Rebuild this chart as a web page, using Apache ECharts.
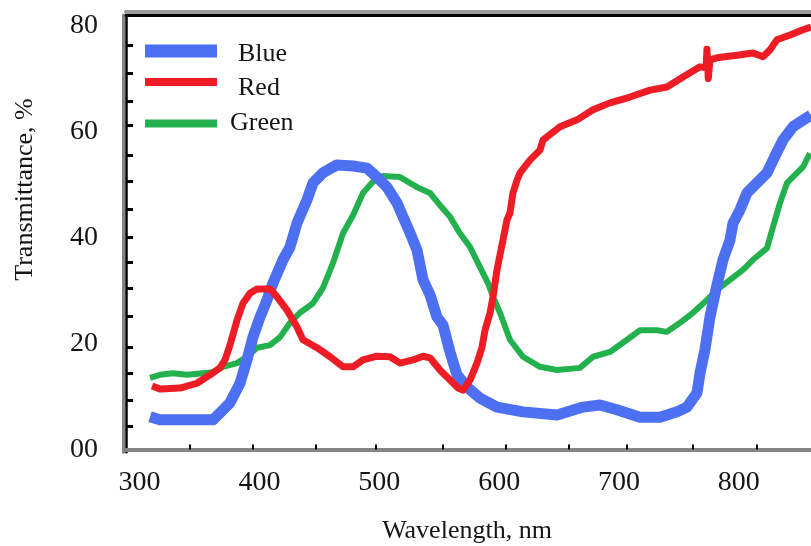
<!DOCTYPE html>
<html>
<head>
<meta charset="utf-8">
<script src="https://cdn.jsdelivr.net/npm/echarts@6/dist/echarts.min.js"></script>
<style>
html,body{margin:0;padding:0;background:#fff;}
#chart{width:811px;height:546px;}
</style>
</head>
<body>
<div id="chart"></div>
<script>
// ---- data (wavelength nm, transmittance %) ----
const seriesNames = ['Blue', 'Red', 'Green'];
const blueData = [
  [308.7,6.2],[317.0,5.6],[361.3,5.6],[367.1,6.9],[375.4,8.8],[383.8,12.5],[389.6,16.9],[394.6,21.2],
  [400.5,25.0],[406.3,28.2],[411.3,31.4],[419.7,35.8],[425.5,38.2],[431.3,42.7],[439.7,47.1],[444.7,50.3],
  [453.0,52.2],[464.7,53.7],[478.1,53.5],[489.7,53.1],[498.1,51.4],[506.4,49.5],[514.8,46.5],[519.8,43.9],
  [525.6,40.9],[531.5,37.6],[536.5,32.0],[542.3,29.2],[548.1,25.0],[553.1,23.5],[559.0,18.4],[564.8,14.1],
  [573.2,11.8],[584.0,9.7],[598.2,8.0],[619.9,7.1],[648.3,6.5],[670.0,8.0],[684.1,8.4],[698.3,7.5],
  [717.5,6.1],[734.2,6.1],[748.4,7.1],[756.7,8.0],[765.1,10.7],[767.6,14.4],[771.7,18.8],[775.9,25.0],
  [781.7,31.0],[786.8,35.8],[792.6,39.5],[795.1,42.7],[800.9,45.2],[806.8,48.4],[815.1,50.3],[823.5,52.2],
  [828.5,54.6],[836.8,58.4],[845.2,60.9],[856.8,62.6],[860.2,63.1]
];
const redData = [
  [310.4,12.0],[317.0,11.4],[333.7,11.6],[347.9,12.5],[358.8,14.1],[367.1,15.4],[371.3,16.9],[375.4,19.7],
  [381.3,24.4],[386.3,27.6],[392.1,29.5],[398.0,30.3],[408.8,30.3],[414.7,28.8],[423.0,26.3],[431.3,23.1],
  [436.3,20.7],[448.0,19.2],[458.9,17.5],[469.7,15.6],[478.1,15.6],[486.4,16.9],[498.1,17.6],[508.9,17.5],
  [517.3,16.3],[528.1,16.9],[536.5,17.6],[542.3,17.3],[550.6,15.0],[559.0,13.1],[565.7,11.6],[569.8,11.2],
  [575.7,13.1],[581.5,16.3],[585.7,19.3],[588.2,22.5],[592.4,25.8],[594.9,28.8],[598.2,33.9],[603.2,39.5],
  [606.5,43.3],[609.0,44.6],[611.5,48.4],[614.9,50.8],[617.4,52.2],[625.7,54.6],[634.1,56.5],[636.6,58.4],
  [650.8,60.9],[665.0,62.2],[678.3,64.1],[692.5,65.4],[709.2,66.5],[725.9,67.8],[740.0,68.4],[753.4,70.3],
  [767.6,72.2],[772.6,72.0],[773.4,75.5],[774.5,70.0],[775.9,73.5],[781.7,73.9],[798.4,74.4],[811.8,74.8],
  [820.1,74.1],[826.0,75.4],[831.8,77.3],[842.7,78.2],[853.5,79.2],[860.2,79.7]
];
const greenData = [
  [308.7,13.5],[317.0,14.1],[327.9,14.4],[339.6,14.1],[352.9,14.4],[361.3,14.6],[369.6,15.6],[381.3,16.3],
  [389.6,17.5],[398.0,19.2],[408.8,19.7],[417.2,21.2],[425.5,23.9],[433.8,25.8],[444.7,27.6],[453.0,30.5],
  [461.4,35.2],[469.7,40.8],[478.1,44.2],[486.4,48.4],[494.7,50.5],[503.1,51.6],[517.3,51.4],[531.5,49.5],
  [542.3,48.4],[550.6,46.1],[559.0,43.9],[567.3,40.8],[575.7,38.2],[584.0,34.4],[590.7,31.4],[594.9,28.8],
  [600.7,25.8],[609.0,20.7],[619.9,17.5],[634.1,15.6],[648.3,15.0],[667.4,15.4],[678.3,17.5],[692.5,18.4],
  [706.7,20.7],[717.5,22.5],[731.7,22.5],[740.0,22.2],[750.9,23.9],[761.7,25.8],[773.4,28.2],[781.7,30.1],
  [792.6,32.0],[803.4,33.9],[811.8,35.8],[823.5,38.0],[828.5,42.0],[834.3,46.5],[840.2,50.3],[848.5,52.2],
  [853.5,53.3],[859.3,55.9]
];
// tick labels and tick marks
const xLabelValues = [300, 400, 500, 600, 700, 800];
const xTickValues = [342.1, 394.6, 447.2, 497.3, 553.2, 605.7, 658.3, 706.7, 761.7, 815.1];
const yLabelValues = [0, 20, 40, 60, 80];
const yTickValues = [76.3, 71.0, 65.7, 61.2, 55.6, 50.7, 45.4, 40.1, 35.4, 30.5, 25.2, 19.2, 14.4, 9.2, 4.4];
const xTitle = 'Wavelength, nm';
const yTitle = 'Transmittance, %';

// ---- styling ----
const FONT = 'Liberation Serif';
const TXT = '#151515';
const colors = { Blue: '#4d6ff2', Red: '#ee1c25', Green: '#22b14c' };
const X_MIN = 288.67, X_MAX = 860.2, Y_MIN = -0.5, Y_MAX = 82;

const chart = echarts.init(document.getElementById('chart'), null, { renderer: 'canvas' });

function plainX(pos, offset, color, width) {
  return { type: 'value', min: X_MIN, max: X_MAX, position: pos, offset: offset,
    axisLine: { show: true, lineStyle: { color: color, width: width } },
    axisTick: { show: false }, axisLabel: { show: false }, splitLine: { show: false } };
}
// legend text is pushed down by a small spacer line (shift = spacer / 2)
function legendFor(name, top, h, padLeft, spacer) {
  return {
    data: [name], left: 145, top: top, orient: 'horizontal', padding: 0,
    icon: 'rect', itemWidth: 72, itemHeight: h,
    itemStyle: { borderWidth: 0 },
    formatter: spacer > 0 ? (n => '{s| }\n{t|' + n + '}') : (n => '{t|' + n + '}'),
    textStyle: {
      fontFamily: FONT, fontSize: 26, color: TXT, padding: [0, 0, 0, padLeft],
      rich: {
        s: { fontSize: 2, lineHeight: spacer || 1 },
        t: { fontFamily: FONT, fontSize: 26, lineHeight: 26, color: TXT }
      }
    }
  };
}

const option = {
  animation: false,
  backgroundColor: '#fff',
  grid: { left: 126, right: 0, top: 14.9, bottom: 93.85, containLabel: false, outerBoundsMode: 'none' },
  legend: [
    legendFor('Blue', 37, 13, 16, 7),
    legendFor('Red', 68, 8, 16, 12),
    legendFor('Green', 110.5, 8, 8, 0)
  ],
  xAxis: [
    {
      type: 'value', min: X_MIN, max: X_MAX, position: 'bottom',
      name: xTitle, nameLocation: 'middle', nameGap: 66,
      nameTextStyle: { fontFamily: FONT, fontSize: 26, color: TXT, padding: [0, 3, 0, 0] },
      axisLine: { show: true, lineStyle: { color: '#000', width: 3 } },
      axisTick: { show: true, inside: true, length: 5, lineStyle: { color: '#000', width: 2 }, customValues: xTickValues },
      axisLabel: { show: true, margin: 16, fontFamily: FONT, fontSize: 28, color: TXT, customValues: xLabelValues,
        formatter: v => String(v) },
      splitLine: { show: false }
    },
    plainX('bottom', 4, '#858585', 4),
    plainX('top', 0, '#000', 3),
    plainX('top', 3.5, '#9a9a9a', 4)
  ],
  yAxis: [
    {
      type: 'value', min: Y_MIN, max: Y_MAX, position: 'left',
      name: yTitle, nameLocation: 'middle', nameGap: 88, nameRotate: 90,
      nameTextStyle: { fontFamily: FONT, fontSize: 26, color: TXT, padding: [0, 0, 0, 88] },
      axisLine: { show: true, lineStyle: { color: '#000', width: 2.5 } },
      axisTick: { show: true, inside: true, length: 7, lineStyle: { color: '#000', width: 3 }, customValues: yTickValues },
      axisLabel: { show: true, margin: 28, fontFamily: FONT, fontSize: 28, color: TXT, customValues: yLabelValues,
        formatter: v => String(Math.round(v)).padStart(2, '0') },
      splitLine: { show: false }
    },
    {
      type: 'value', min: Y_MIN, max: Y_MAX, position: 'left', offset: 2.8,
      axisLine: { show: true, lineStyle: { color: '#858585', width: 3 } },
      axisTick: { show: false }, axisLabel: { show: false }, splitLine: { show: false }
    }
  ],
  series: [
    { name: 'Green', type: 'line', data: greenData, showSymbol: false, symbol: 'none', color: colors.Green,
      lineStyle: { width: 6, color: colors.Green, join: 'round' } },
    { name: 'Blue', type: 'line', data: blueData, showSymbol: false, symbol: 'none', color: colors.Blue,
      lineStyle: { width: 11, color: colors.Blue, join: 'round' } },
    { name: 'Red', type: 'line', data: redData, showSymbol: false, symbol: 'none', color: colors.Red,
      lineStyle: { width: 7, color: colors.Red, join: 'round' } }
  ]
};
chart.setOption(option);
</script>
</body>
</html>
